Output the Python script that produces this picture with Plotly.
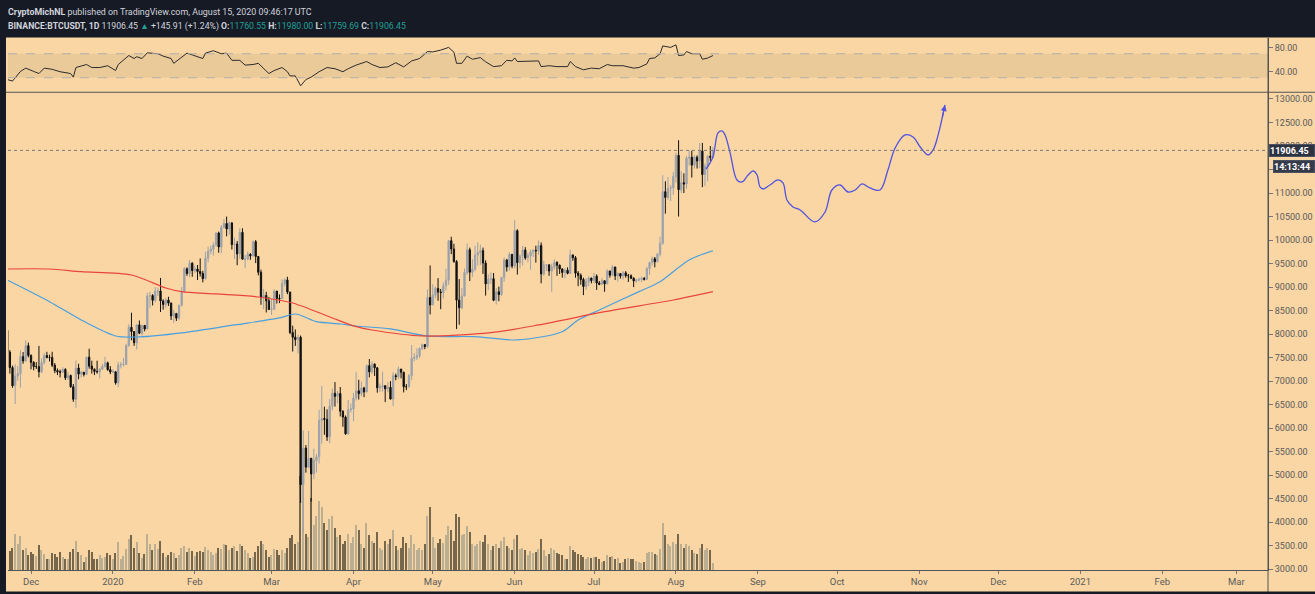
import plotly.graph_objects as go
from datetime import date, timedelta

# ---------------- data ----------------
start_day = date(2019, 11, 22)
first_open = 8080.0

closes = [
    # Nov 22-30 2019
    7617, 7289, 6903, 7110, 7160, 7523, 7430, 7755, 7546,
    # Dec 2019
    7400, 7310, 7310, 7200, 7395, 7545, 7505, 7505, 7340, 7225, 7200, 7190, 7250, 7070, 7120, 6880,
    6615, 7280, 7150, 7190, 7145, 7510, 7320, 7255, 7205, 7200, 7255, 7315, 7390, 7245, 7195,
    # Jan 2020
    7200, 6965, 7345, 7355, 7358, 7758, 8145, 8055, 7818, 8197, 8020, 8185, 8110, 8810, 8821, 8720,
    8913, 8916, 8706, 8630, 8724, 8660, 8385, 8440, 8340, 8616, 8906, 9388, 9290, 9508, 9351,
    # Feb 2020
    9385, 9332, 9289, 9181, 9613, 9764, 9805, 9895, 10151, 9852, 10268, 10352, 10237, 10364, 9904,
    9917, 9706, 10164, 9594, 9597, 9699, 9663, 9966, 9651, 9315, 8785, 8823, 8709, 8523,
    # Mar 2020
    8531, 8915, 8760, 8751, 9078, 9153, 8894, 8034, 7935, 7883, 7934, 4800, 5578, 5172, 5361, 5028,
    5312, 5392, 6162, 6208, 6186, 5816, 6469, 6744, 6677, 6737, 6359, 6236, 5881, 6394, 6410,
    # Apr 2020
    6642, 6795, 6734, 6856, 6772, 7329, 7197, 7361, 7283, 6858, 6876, 6903, 6837, 6869, 6620, 7116,
    7096, 7257, 7189, 6881, 6880, 7118, 7482, 7505, 7538, 7694, 7774, 7738, 8778, 8620,
    # May 2020
    8826, 8972, 8894, 8884, 9031, 9148, 9986, 9811, 9542, 8722, 8561, 8810, 9310, 9792, 9316, 9382,
    9680, 9733, 9775, 9511, 9068, 9170, 9179, 8720, 8900, 8842, 9204, 9575, 9427, 9697, 9448,
    # Jun 2020
    10200, 9519, 9666, 9789, 9621, 9666, 9746, 9782, 9772, 9885, 9280, 9465, 9474, 9342, 9426, 9525,
    9465, 9386, 9310, 9358, 9294, 9685, 9624, 9296, 9249, 9162, 9012, 9116, 9192, 9138,
    # Jul 2020
    9232, 9087, 9059, 9135, 9070, 9342, 9253, 9428, 9237, 9288, 9234, 9303, 9243, 9243, 9188, 9132,
    9151, 9159, 9186, 9165, 9392, 9521, 9603, 9538, 9701, 9931, 11029, 10906, 11100, 11110, 11351,
    # Aug 1-15 2020
    11802, 11071, 11219, 11191, 11744, 11762, 11594, 11761, 11681, 11892, 11393, 11565, 11780,
    11760.55, 11906.45,
]

highs = [
    8116, 7660, 7330, 7360, 7320, 7655, 7620, 7870, 7820,
    7570, 7425, 7405, 7750, 7485, 7600, 7625, 7565, 7625, 7385, 7270, 7245, 7300, 7275, 7190, 7140,
    6940, 7440, 7370, 7220, 7195, 7520, 7690, 7435, 7270, 7435, 7275, 7365, 7520, 7415, 7320,
    7255, 7210, 7405, 7405, 7495, 7795, 8210, 8455, 8065, 8200, 8290, 8200, 8195, 8880, 8900, 8850,
    9000, 8990, 9195, 8740, 8770, 8795, 8670, 8515, 8450, 8620, 9000, 9425, 9420, 9575, 9530,
    9460, 9470, 9610, 9345, 9750, 9860, 9880, 9950, 10160, 10180, 10320, 10450, 10500, 10395, 10380,
    10050, 9980, 10250, 10250, 9680, 9760, 9720, 9990, 10000, 9660, 9370, 8960, 8900, 8790,
    8750, 8950, 8915, 8845, 9165, 9190, 9220, 8900, 8180, 8100, 7990, 7970, 5950, 5640, 5940, 5365,
    5565, 5450, 6390, 6900, 6458, 6400, 6620, 6840, 6980, 6790, 6875, 6380, 6270, 6600, 6525,
    6750, 7200, 7030, 6990, 6880, 7355, 7470, 7420, 7380, 7300, 6950, 7200, 6915, 6985, 7000, 7190,
    7160, 7310, 7260, 7200, 6940, 7150, 7770, 7600, 7700, 7720, 7800, 7790, 8950, 9460,
    9060, 9010, 9190, 8960, 9100, 9390, 9990, 10070, 9920, 9575, 9170, 8980, 9400, 9930, 9840, 9590,
    9880, 9950, 9900, 9840, 9570, 9270, 9310, 9300, 8980, 9010, 9220, 9630, 9600, 9740, 9700,
    10430, 10230, 9690, 9880, 9850, 9730, 9800, 9800, 9880, 9990, 9950, 9560, 9490, 9480, 9500, 9590,
    9550, 9480, 9400, 9400, 9420, 9790, 9690, 9660, 9340, 9290, 9200, 9190, 9230, 9200,
    9300, 9270, 9130, 9190, 9140, 9380, 9350, 9470, 9430, 9310, 9300, 9340, 9340, 9280, 9270, 9210,
    9180, 9200, 9230, 9215, 9430, 9540, 9650, 9640, 9730, 10070, 11380, 11250, 11340, 11170, 11450,
    11860, 12123, 11470, 11420, 11790, 11900, 11900, 11800, 11800, 12065, 12065, 11625, 11800,
    12000, 11980,
]

lows = [
    6790, 7160, 6860, 6515, 7010, 6860, 7370, 7415, 7505,
    7250, 7230, 7260, 7080, 7170, 7350, 7485, 7420, 7300, 7170, 7130, 7080, 7170, 7025, 7030, 6860,
    6560, 6435, 7040, 7080, 7100, 7130, 7265, 7160, 7130, 7160, 7060, 7245, 7290, 7220, 7150,
    7175, 6925, 6870, 7270, 7310, 7345, 7730, 7870, 7750, 7675, 8000, 7970, 8060, 8100, 8560, 8610,
    8675, 8810, 8470, 8520, 8560, 8600, 8300, 8240, 8280, 8305, 8585, 8880, 9240, 9210, 9220,
    9300, 9150, 9225, 9100, 9160, 9530, 9700, 9670, 9865, 9730, 9720, 10250, 10080, 10120, 9800,
    9600, 9465, 9600, 9590, 9400, 9570, 9580, 9655, 9510, 9250, 8625, 8530, 8460, 8520,
    8410, 8510, 8650, 8660, 8750, 9010, 8850, 8000, 7630, 7750, 7590, 4410, 3782, 5055, 5150, 4440,
    4920, 5055, 5250, 5670, 5860, 5730, 5680, 6380, 6460, 6530, 6250, 6030, 5860, 5860, 6330,
    6150, 6590, 6610, 6680, 6660, 6760, 7080, 7150, 7110, 6755, 6770, 6780, 6555, 6765, 6610, 6470,
    7020, 7050, 7060, 6760, 6810, 6860, 7020, 7420, 7450, 7490, 7660, 7680, 7710, 8420,
    8620, 8760, 8710, 8530, 8760, 8930, 9050, 9700, 9520, 8110, 8200, 8530, 8800, 9260, 9130, 9220,
    9340, 9460, 9470, 9280, 8820, 8940, 9070, 8700, 8630, 8700, 8810, 9110, 9330, 9350, 9400,
    9400, 9266, 9400, 9460, 9580, 9530, 9370, 9640, 9520, 9690, 9080, 9240, 9340, 9240, 8900, 9370,
    9240, 9280, 9200, 9190, 9270, 9280, 9560, 9200, 9020, 9050, 8830, 8940, 9020, 9080,
    9080, 8940, 9040, 9050, 8900, 9060, 9200, 9230, 9150, 9120, 9180, 9160, 9200, 9110, 9170, 9000,
    9090, 9120, 9110, 9140, 9150, 9260, 9460, 9420, 9530, 9650, 9900, 10560, 10860, 10830, 10960,
    11220, 10500, 11000, 11000, 11090, 11580, 11330, 11520, 11520, 11530, 11125, 11150, 11250,
    11680, 11759.69,
]

# volume, thousands of BTC
volumes = [
    110, 52, 60, 100, 72, 92, 55, 60, 40,
    50, 42, 38, 68, 55, 42, 28, 30, 46, 44, 35, 50, 35, 28, 28, 50, 58, 80, 50, 40, 20, 35, 55, 48,
    30, 28, 40, 33, 35, 45, 40,
    28, 45, 78, 30, 38, 58, 85, 95, 60, 78, 45, 32, 42, 100, 70, 55, 72, 58, 80, 45, 35, 40, 50, 45,
    32, 40, 60, 65, 50, 60, 52,
    38, 48, 52, 48, 62, 55, 50, 40, 45, 60, 58, 70, 68, 55, 60, 65, 52, 70, 65, 55, 45, 32, 35, 50,
    65, 80, 70, 55, 35,
    40, 58, 55, 40, 55, 45, 60, 88, 95, 70, 78, 260, 265, 100, 90, 200, 125, 150, 190, 175, 130, 110,
    140, 150, 115, 90, 95, 70, 80, 100, 75,
    90, 125, 110, 70, 60, 130, 95, 80, 75, 105, 60, 55, 80, 70, 85, 110, 65, 55, 60, 90, 75, 60, 95,
    70, 55, 60, 55, 70, 150, 175,
    90, 60, 75, 85, 75, 95, 120, 110, 80, 155, 145, 95, 100, 120, 105, 70, 65, 72, 80, 78, 95, 70, 55,
    65, 72, 60, 80, 90, 65, 60, 55,
    85, 95, 58, 60, 55, 40, 52, 45, 48, 56, 85, 55, 38, 42, 60, 55, 45, 42, 40, 28, 30, 65, 55, 50,
    42, 40, 35, 30, 35, 32,
    35, 35, 30, 22, 25, 40, 35, 38, 30, 32, 18, 22, 30, 32, 28, 30, 25, 20, 18, 22, 45, 50, 48, 42,
    40, 58, 130, 95, 72, 65, 78,
    70, 100, 72, 60, 72, 65, 55, 45, 42, 60, 70, 55, 60, 55, 18,
]

ma_blue_dates = ['2019-11-22', '2019-12-08', '2019-12-20', '2020-01-02', '2020-01-11', '2020-01-27',
                 '2020-02-16', '2020-03-04', '2020-03-10', '2020-03-18', '2020-03-27', '2020-04-02',
                 '2020-04-15', '2020-04-29', '2020-05-17', '2020-06-02', '2020-06-19', '2020-06-25',
                 '2020-07-03', '2020-07-18', '2020-07-26', '2020-08-06', '2020-08-15']
ma_blue_vals = [9151, 8690, 8301, 7961, 7940, 8025, 8195, 8344, 8428, 8265, 8216, 8173,
                8110, 7961, 7946, 7876, 8052, 8301, 8514, 8903, 9115, 9577, 9774]

ma_red_dates = ['2019-11-22', '2019-12-08', '2019-12-20', '2020-01-08', '2020-01-21', '2020-01-27',
                '2020-02-09', '2020-02-25', '2020-03-09', '2020-03-24', '2020-04-02', '2020-04-08',
                '2020-04-27', '2020-05-23', '2020-06-10', '2020-07-05', '2020-07-31', '2020-08-15']
ma_red_vals = [9385, 9385, 9328, 9258, 8981, 8903, 8854, 8790, 8662, 8344, 8158, 8088,
               7961, 8031, 8195, 8477, 8726, 8903]

rsi_dates = ['2019-11-22', '2019-11-24', '2019-11-27', '2019-11-29',
             '2019-12-02', '2019-12-04', '2019-12-06', '2019-12-09', '2019-12-12', '2019-12-16',
             '2019-12-17', '2019-12-18', '2019-12-22', '2019-12-24', '2019-12-27', '2019-12-30',
             '2020-01-02', '2020-01-03', '2020-01-07', '2020-01-09', '2020-01-10', '2020-01-12',
             '2020-01-14', '2020-01-18', '2020-01-20', '2020-01-23', '2020-01-24', '2020-01-27',
             '2020-01-29', '2020-01-31',
             '2020-02-04', '2020-02-05', '2020-02-08', '2020-02-11', '2020-02-13', '2020-02-15',
             '2020-02-18', '2020-02-20', '2020-02-23', '2020-02-25', '2020-02-27', '2020-02-29',
             '2020-03-02', '2020-03-05', '2020-03-07', '2020-03-08', '2020-03-10', '2020-03-12',
             '2020-03-14', '2020-03-16', '2020-03-19', '2020-03-22', '2020-03-25', '2020-03-28',
             '2020-03-30',
             '2020-04-02', '2020-04-06', '2020-04-08', '2020-04-11', '2020-04-14', '2020-04-17',
             '2020-04-20', '2020-04-23', '2020-04-26', '2020-04-29',
             '2020-05-01', '2020-05-04', '2020-05-07', '2020-05-09', '2020-05-10', '2020-05-12',
             '2020-05-14', '2020-05-16', '2020-05-19', '2020-05-21', '2020-05-24', '2020-05-27',
             '2020-05-29', '2020-05-31',
             '2020-06-01', '2020-06-02', '2020-06-06', '2020-06-10', '2020-06-11', '2020-06-14',
             '2020-06-17', '2020-06-21', '2020-06-22', '2020-06-24', '2020-06-27', '2020-06-30',
             '2020-07-03', '2020-07-06', '2020-07-08', '2020-07-12', '2020-07-16', '2020-07-18',
             '2020-07-21', '2020-07-22', '2020-07-24', '2020-07-26', '2020-07-27', '2020-07-30',
             '2020-08-01', '2020-08-02', '2020-08-04', '2020-08-05', '2020-08-07', '2020-08-10',
             '2020-08-11', '2020-08-13', '2020-08-15']
rsi_vals = [27, 24.5, 40.5, 46,
            40.5, 37, 46, 44, 40, 37, 31, 47, 52, 47, 47, 50,
            42, 52, 67, 62, 65, 62, 71.5, 70, 66, 62, 54, 64, 71, 68,
            62, 71, 75, 70, 71, 59, 59, 51, 52, 54, 45, 37,
            42, 47, 40, 33, 33, 16.5, 27, 31, 40, 47, 45, 40, 45,
            51, 57, 52, 47, 48, 55, 48, 58, 62, 73.6,
            73, 76, 80.5, 72.5, 54, 54, 66, 60.8, 63.5, 56.5, 48.5, 50, 59, 58,
            63, 57, 58, 58, 48.5, 50, 48.5, 48.5, 57, 48.5, 43.2, 46,
            45, 52, 50, 50, 46, 47, 53, 62, 63, 70, 83, 80.5,
            84.8, 67, 68, 73.6, 70, 70, 60.8, 62.7, 67]

proj_dates = ['2020-08-12 10:00', '2020-08-15 00:00', '2020-08-16 22:00', '2020-08-18 10:00',
              '2020-08-19 14:00', '2020-08-21 12:00', '2020-08-24 02:00', '2020-08-26 00:00',
              '2020-08-28 07:00', '2020-08-30 05:00', '2020-08-31 17:00', '2020-09-01 19:00',
              '2020-09-03 00:00', '2020-09-05 14:00', '2020-09-08 14:00', '2020-09-10 12:00',
              '2020-09-12 00:00', '2020-09-14 07:00', '2020-09-17 00:00', '2020-09-22 14:00',
              '2020-09-26 10:00', '2020-09-29 00:00', '2020-10-02 02:00', '2020-10-05 02:00',
              '2020-10-07 19:00', '2020-10-10 10:00', '2020-10-13 10:00', '2020-10-17 05:00',
              '2020-10-20 05:00', '2020-10-22 22:00', '2020-10-26 17:00', '2020-10-29 17:00',
              '2020-11-01 10:00', '2020-11-04 10:00', '2020-11-06 07:00', '2020-11-08 05:00',
              '2020-11-10 19:00']
proj_vals = [11512, 11767, 12277, 12320, 12235, 11852, 11278, 11235, 11384, 11469, 11384, 11129,
             11086, 11171, 11278, 11214, 10852, 10704, 10640, 10385, 10597, 11065, 11171, 11022,
             11065, 11193, 11108, 11065, 11490, 11958, 12235, 12192, 11979, 11809, 11916, 12235,
             12872]

month_ticks = ['2019-12-01', '2020-01-01', '2020-02-01', '2020-03-01', '2020-04-01', '2020-05-01',
               '2020-06-01', '2020-07-01', '2020-08-01', '2020-09-01', '2020-10-01', '2020-11-01',
               '2020-12-01', '2021-01-01', '2021-02-01', '2021-03-01']
month_labels = ['Dec', '2020', 'Feb', 'Mar', 'Apr', 'May', 'Jun', 'Jul', 'Aug', 'Sep', 'Oct', 'Nov',
                'Dec', '2021', 'Feb', 'Mar']
price_ticks = list(range(3000, 13001, 500))
rsi_ticks = [40, 80]
last_price = 11906.45

# ---------------- derived ----------------
n = len(closes)
dates = [(start_day + timedelta(days=i)).isoformat() for i in range(n)]
opens = [first_open] + closes[:-1]
highs = [max(h, o, c) for h, o, c in zip(highs, opens, closes)]
lows = [min(l, o, c) for l, o, c in zip(lows, opens, closes)]
vol_colors = ['#75664c' if c < o else '#bcae90' for o, c in zip(opens, closes)]

PEACH = '#f9d6a4'
DARK = '#161a25'
AX = '#555555'
FONT = 'Roboto, Arial, sans-serif'
TICKFONT = dict(family=FONT, size=9, color='#5a5a5a')

fig = go.Figure()
fig.add_trace(go.Bar(x=dates, y=volumes, marker=dict(color=vol_colors, line=dict(width=0)),
                     width=0.55 * 86400000, yaxis='y', xaxis='x', hoverinfo='skip'))
fig.add_trace(go.Scatter(x=ma_blue_dates, y=ma_blue_vals, yaxis='y3', mode='lines',
                         line=dict(color='#4a9fe0', width=1.2, shape='spline', smoothing=0.8)))
fig.add_trace(go.Scatter(x=ma_red_dates, y=ma_red_vals, yaxis='y3', mode='lines',
                         line=dict(color='#e8453c', width=1.2, shape='spline', smoothing=0.8)))
fig.add_trace(go.Candlestick(x=dates, open=opens, high=highs, low=lows, close=closes, yaxis='y3',
                             increasing=dict(line=dict(color='#9ba2ad', width=1), fillcolor='#9ba2ad'),
                             decreasing=dict(line=dict(color='#111111', width=1), fillcolor='#111111'),
                             whiskerwidth=0))
fig.add_trace(go.Scatter(x=proj_dates, y=proj_vals, yaxis='y3', mode='lines',
                         line=dict(color='#5252e0', width=1.3, shape='spline', smoothing=1.0)))
fig.add_trace(go.Scatter(x=rsi_dates, y=rsi_vals, yaxis='y2', mode='lines',
                         line=dict(color='#2b2b2b', width=1)))

price_dom = [0, 0.8976]
rsi_dom = [0.8985, 1]

fig.update_layout(
    width=1315, height=594,
    margin=dict(l=8, r=47, t=38, b=24, autoexpand=False),
    paper_bgcolor=PEACH, plot_bgcolor='rgba(0,0,0,0)',
    showlegend=False, bargap=0,
    font=dict(family=FONT, size=10, color=AX),
    xaxis=dict(type='date', range=['2019-11-22 07:00', '2021-03-13 00:00'],
               rangeslider=dict(visible=False), anchor='y', automargin=False,
               tickvals=month_ticks, ticktext=month_labels,
               ticks='outside', ticklen=3, tickcolor='#777777',
               showgrid=False, zeroline=False, showline=True, linecolor=AX, linewidth=1,
               tickfont=dict(family=FONT, size=9.5, color='#5a5a5a')),
    yaxis=dict(domain=price_dom, range=[0, 1330], visible=False, fixedrange=True),
    yaxis3=dict(overlaying='y', side='right', anchor='x', range=[2985, 13138], automargin=False,
                tickvals=price_ticks, ticktext=[f'{v:.2f}' for v in price_ticks],
                ticks='outside', ticklen=4, tickcolor='#777777',
                showgrid=False, zeroline=False, showline=True, linecolor=AX, linewidth=1,
                tickfont=TICKFONT),
    yaxis2=dict(domain=rsi_dom, anchor='x', side='right', range=[6.2, 96.2], automargin=False,
                tickvals=rsi_ticks, ticktext=[f'{v:.2f}' for v in rsi_ticks],
                ticks='outside', ticklen=4, tickcolor='#777777',
                showgrid=False, zeroline=False, showline=True, linecolor=AX, linewidth=1,
                tickfont=TICKFONT),
)

shapes = [
    # RSI band and its dashed bounds
    dict(type='rect', xref='paper', yref='y2', x0=0, x1=1, y0=30, y1=70,
         fillcolor='#ebca9a', line=dict(width=0), layer='below'),
    dict(type='line', xref='paper', yref='y2', x0=0, x1=1, y0=70, y1=70,
         line=dict(color='#b3b0ab', width=1, dash='dash')),
    dict(type='line', xref='paper', yref='y2', x0=0, x1=1, y0=30, y1=30,
         line=dict(color='#b3b0ab', width=1, dash='dash')),
    # last-price dotted line
    dict(type='line', xref='paper', yref='y3', x0=0, x1=1, y0=last_price, y1=last_price,
         line=dict(color='#7a7a7a', width=1, dash='dot')),
    # pane separator
    dict(type='line', xref='paper', yref='paper', x0=-0.01, x1=1.05, y0=0.8980, y1=0.8980,
         line=dict(color=AX, width=1)),
    # right scale line through the time-axis area
    dict(type='line', xref='paper', yref='paper', x0=1, x1=1, y0=-0.045, y1=1,
         line=dict(color=AX, width=1)),
    # dark frame
    dict(type='rect', xref='paper', yref='paper', x0=-0.02, x1=1.05, y0=1.001, y1=1.12,
         fillcolor=DARK, line=dict(width=0), layer='above'),
    dict(type='rect', xref='paper', yref='paper', x0=-0.02, x1=-0.0016, y0=-0.1, y1=1.12,
         fillcolor=DARK, line=dict(width=0), layer='above'),
    dict(type='rect', xref='paper', yref='paper', x0=-0.02, x1=1.05, y0=-0.1, y1=-0.0405,
         fillcolor=DARK, line=dict(width=0), layer='above'),
]
fig.update_layout(shapes=shapes)

TEAL = '#22a095'
LIGHT = '#d1d4dc'
header1 = "<b>CryptoMichNL</b> published on TradingView.com, August 15, 2020 09:46:17 UTC"
header2 = ("<b>BINANCE:BTCUSDT, 1D</b> 11906.45 "
           f"<span style='color:{TEAL}'>▲</span> +145.91 (+1.24%) "
           f"<b>O:</b><span style='color:{TEAL}'>11760.55</span> "
           f"<b>H:</b><span style='color:{TEAL}'>11980.00</span> "
           f"<b>L:</b><span style='color:{TEAL}'>11759.69</span> "
           f"<b>C:</b><span style='color:{TEAL}'>11906.45</span>")

annotations = [
    dict(xref='paper', yref='paper', x=-0.0016, y=1.0489, xanchor='left', yanchor='middle',
         text=header1, showarrow=False, font=dict(family=FONT, size=8.9, color=LIGHT)),
    dict(xref='paper', yref='paper', x=-0.0016, y=1.0207, xanchor='left', yanchor='middle',
         text=header2, showarrow=False, font=dict(family=FONT, size=8.7, color=LIGHT)),
    dict(xref='paper', yref='y3', x=1, y=last_price, xanchor='left', yanchor='middle', xshift=1,
         text='<b>11906.45</b>', showarrow=False, bgcolor='#2e3342', bordercolor='#4a5060',
         borderwidth=1, borderpad=0, width=44, height=11, align='left',
         font=dict(family=FONT, size=9, color='#ffffff')),
    dict(xref='paper', yref='y3', x=1, y=last_price, xanchor='left', yanchor='middle', xshift=5,
         yshift=-16, text='<b>14:13:44</b>', showarrow=False, bgcolor='#363b4a',
         bordercolor='#4a5060', borderwidth=1, borderpad=0, width=40, height=11, align='left',
         font=dict(family=FONT, size=9, color='#ffffff')),
    dict(xref='x', yref='y3', x=proj_dates[-1], y=proj_vals[-1], ax=-3, ay=14,
         axref='pixel', ayref='pixel', text='', showarrow=True, arrowhead=2, arrowsize=1,
         arrowwidth=1.2, arrowcolor='#5252e0', standoff=0),
]
fig.update_layout(annotations=annotations)

fig.write_html("out.html")
